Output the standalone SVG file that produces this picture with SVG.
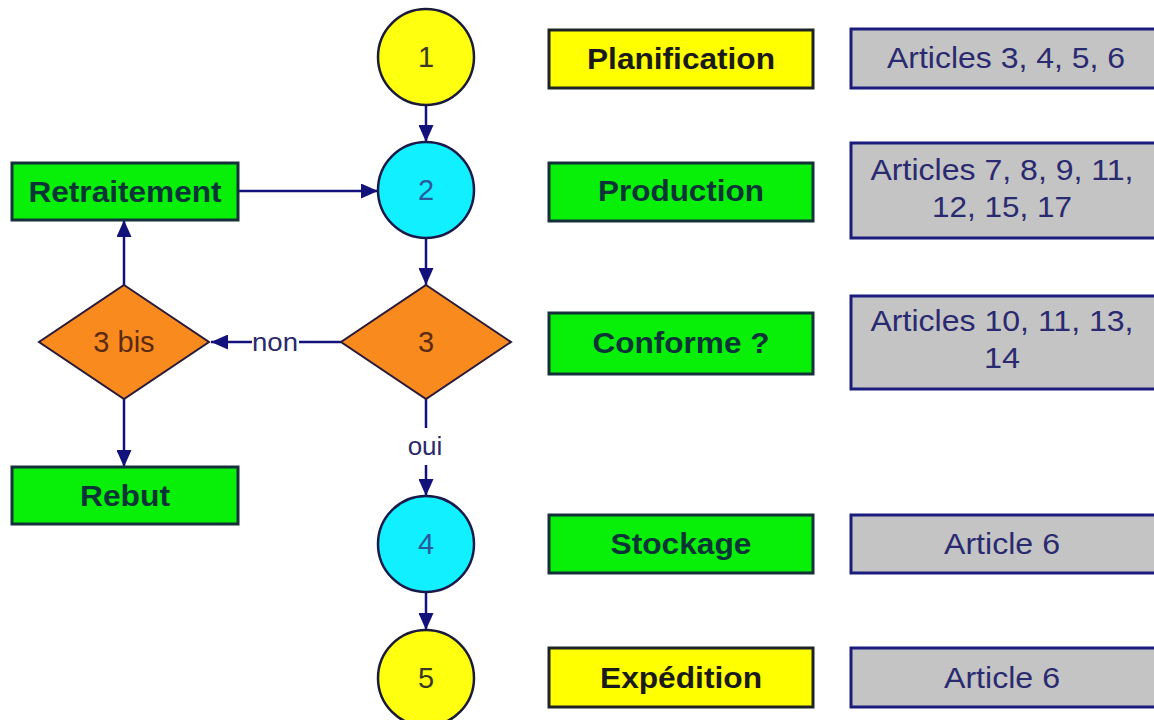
<svg xmlns="http://www.w3.org/2000/svg" width="1154" height="720" viewBox="0 0 1154 720">
  <defs>
    <marker id="arr" markerWidth="17" markerHeight="15" viewBox="0 0 17 15" refX="17" refY="7.5" orient="auto" markerUnits="userSpaceOnUse">
      <path d="M0,0 L17,7.5 L0,15 Z" fill="#12127a"/>
    </marker>
    <style>
      .bg{fill:#ffffff}
      .yel{fill:#ffff00;stroke:#1e2426;stroke-width:3}
      .grn{fill:#08f008;stroke:#14303a;stroke-width:3}
      .gry{fill:#c4c4c4;stroke:#1c1c7c;stroke-width:3}
      .cy{fill:#10f0ff;stroke:#1a1a4a;stroke-width:2.5}
      .cyel{fill:#ffff10;stroke:#1a1a3a;stroke-width:2.5}
      .dia{fill:#f98b1e;stroke:#2a1a3a;stroke-width:2}
      .lbl{font-family:"Liberation Sans",Arial,sans-serif;font-weight:bold;font-size:29px;text-anchor:middle}
      .lg{fill:#0a3438}
      .ly{fill:#1a1a1a}
      .art{font-family:"Liberation Sans",Arial,sans-serif;font-size:29px;text-anchor:middle;fill:#2a2a70}
      .num{font-family:"Liberation Sans",Arial,sans-serif;font-size:29px;text-anchor:middle}
      .conn{stroke:#12127a;stroke-width:2.5;fill:none}
      .ctxt{font-family:"Liberation Sans",Arial,sans-serif;font-size:26px;text-anchor:middle;fill:#2a2a6a}
    </style>
  </defs>
  <rect class="bg" x="0" y="0" width="1154" height="720"/>

  <g id="connectors">
    <line class="conn" x1="426" y1="105" x2="426" y2="142" marker-end="url(#arr)"/>
    <line class="conn" x1="238" y1="191" x2="378" y2="191" marker-end="url(#arr)"/>
    <line class="conn" x1="426" y1="238" x2="426" y2="285" marker-end="url(#arr)"/>
    <line class="conn" x1="341" y1="342" x2="299" y2="342"/>
    <line class="conn" x1="252" y1="342" x2="211" y2="342" marker-end="url(#arr)"/>
    <text class="ctxt" x="275" y="351" textLength="46" lengthAdjust="spacingAndGlyphs">non</text>
    <line class="conn" x1="124" y1="285" x2="124" y2="220" marker-end="url(#arr)"/>
    <line class="conn" x1="124" y1="399" x2="124" y2="467" marker-end="url(#arr)"/>
    <line class="conn" x1="426" y1="399" x2="426" y2="428"/>
    <text class="ctxt" x="425" y="455">oui</text>
    <line class="conn" x1="426" y1="465" x2="426" y2="496" marker-end="url(#arr)"/>
    <line class="conn" x1="426" y1="592" x2="426" y2="630" marker-end="url(#arr)"/>
  </g>

  <g id="node-1">
    <circle class="cyel" cx="426" cy="57" r="48"/>
    <text class="num" x="426" y="67" fill="#3a3a24">1</text>
  </g>
  <g id="node-2">
    <circle class="cy" cx="426" cy="190" r="48"/>
    <text class="num" x="426" y="200" fill="#2a5a9a">2</text>
  </g>
  <g id="node-3">
    <polygon class="dia" points="426,285 511,342 426,399 341,342"/>
    <text class="num" x="426" y="352" fill="#5a2a14">3</text>
  </g>
  <g id="node-3bis">
    <polygon class="dia" points="124,285 209,342 124,399 39,342"/>
    <text class="num" x="124" y="352" fill="#5a2a14">3 bis</text>
  </g>
  <g id="node-4">
    <circle class="cy" cx="426" cy="544" r="48"/>
    <text class="num" x="426" y="554" fill="#2a5a9a">4</text>
  </g>
  <g id="node-5">
    <circle class="cyel" cx="426" cy="678" r="48"/>
    <text class="num" x="426" y="688" fill="#3a3a24">5</text>
  </g>

  <g id="node-retraitement">
    <rect class="grn" x="12" y="163" width="226" height="57"/>
    <text class="lbl lg" x="125" y="202" textLength="193" lengthAdjust="spacingAndGlyphs">Retraitement</text>
  </g>
  <g id="node-rebut">
    <rect class="grn" x="12" y="467" width="226" height="57"/>
    <text class="lbl lg" x="125" y="506" textLength="90" lengthAdjust="spacingAndGlyphs">Rebut</text>
  </g>

  <g id="node-planification">
    <rect class="yel" x="549" y="30" width="264" height="58"/>
    <text class="lbl ly" x="681" y="69" textLength="188" lengthAdjust="spacingAndGlyphs">Planification</text>
  </g>
  <g id="node-production">
    <rect class="grn" x="549" y="163" width="264" height="58"/>
    <text class="lbl lg" x="681" y="201" textLength="166" lengthAdjust="spacingAndGlyphs">Production</text>
  </g>
  <g id="node-conforme">
    <rect class="grn" x="549" y="313" width="264" height="61"/>
    <text class="lbl lg" x="681" y="353" textLength="177" lengthAdjust="spacingAndGlyphs">Conforme ?</text>
  </g>
  <g id="node-stockage">
    <rect class="grn" x="549" y="515" width="264" height="58"/>
    <text class="lbl lg" x="681" y="554" textLength="141" lengthAdjust="spacingAndGlyphs">Stockage</text>
  </g>
  <g id="node-expedition">
    <rect class="yel" x="549" y="648" width="264" height="59"/>
    <text class="lbl ly" x="681" y="688" textLength="162" lengthAdjust="spacingAndGlyphs">Expédition</text>
  </g>

  <g id="node-art1">
    <rect class="gry" x="851" y="29" width="312" height="59"/>
    <text class="art" x="1006" y="68" textLength="238" lengthAdjust="spacingAndGlyphs">Articles 3, 4, 5, 6</text>
  </g>
  <g id="node-art2">
    <rect class="gry" x="851" y="143" width="312" height="95"/>
    <text class="art" x="1002" y="180" textLength="263" lengthAdjust="spacingAndGlyphs">Articles 7, 8, 9, 11,</text>
    <text class="art" x="1002" y="217" textLength="140" lengthAdjust="spacingAndGlyphs">12, 15, 17</text>
  </g>
  <g id="node-art3">
    <rect class="gry" x="851" y="296" width="312" height="93"/>
    <text class="art" x="1002" y="331" textLength="263" lengthAdjust="spacingAndGlyphs">Articles 10, 11, 13,</text>
    <text class="art" x="1002" y="368" textLength="36" lengthAdjust="spacingAndGlyphs">14</text>
  </g>
  <g id="node-art4">
    <rect class="gry" x="851" y="515" width="312" height="58"/>
    <text class="art" x="1002" y="554" textLength="116" lengthAdjust="spacingAndGlyphs">Article 6</text>
  </g>
  <g id="node-art5">
    <rect class="gry" x="851" y="648" width="312" height="59"/>
    <text class="art" x="1002" y="688" textLength="116" lengthAdjust="spacingAndGlyphs">Article 6</text>
  </g>
</svg>
